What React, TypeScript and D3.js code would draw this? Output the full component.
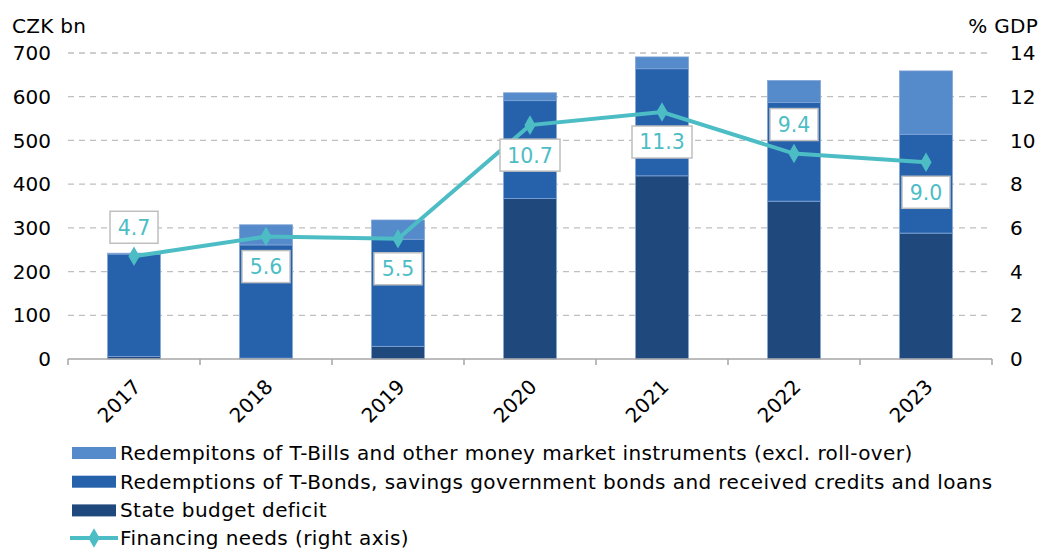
import React from 'react';
import * as d3 from 'd3';

const years = ['2017', '2018', '2019', '2020', '2021', '2022', '2023'];
const deficit = [6, 2, 29, 367, 419, 361, 288];
const tBonds = [234, 259, 245, 224, 245, 226, 226];
const tBills = [2, 46, 44, 18, 27, 50, 145];
const financingNeeds = [4.7, 5.6, 5.5, 10.7, 11.3, 9.4, 9.0];
const labelAbove = [true, false, false, false, false, true, false];
const leftTicks = [0, 100, 200, 300, 400, 500, 600, 700];
const rightTicks = [0, 2, 4, 6, 8, 10, 12, 14];

const legendItems = [
    { label: 'Redempitons of T-Bills and other money market instruments (excl. roll-over)', color: '#558ACB' },
    { label: 'Redemptions of T-Bonds, savings government bonds and received credits and loans', color: '#2662AC' },
    { label: 'State budget deficit', color: '#1F497D' },
];

const seriesColors = ['#1F497D', '#2662AC', '#558ACB'];
const lineColor = '#4DBDC5';
const font = '"DejaVu Sans", Verdana, sans-serif';

const App = () => {
    const width = 1040;
    const height = 549;
    const left = 68, right = 992, top = 53, bottom = 359;

    const x = d3.scaleBand<string>().domain(years).range([left, right]).paddingInner(0.6).paddingOuter(0.3);
    const y = d3.scaleLinear().domain([0, 700]).range([bottom, top]);
    const y2 = d3.scaleLinear().domain([0, 14]).range([bottom, top]);

    const table = years.map((yr, i) => ({ year: yr, deficit: deficit[i], bonds: tBonds[i], bills: tBills[i] }));
    const stack = d3.stack<any>().keys(['deficit', 'bonds', 'bills'])(table);

    const cx = (yr: string) => (x(yr) as number) + x.bandwidth() / 2;
    const line = d3.line<number>().x((d, i) => cx(years[i])).y(d => y2(d));
    const diamond = d3.symbol().type(d3.symbolDiamond).size(110)();

    return (
        <svg width={width} height={height} style={{ display: 'block', position: 'absolute', left: 0, top: 0 }} fontFamily={font}>
            <text x={12} y={33} fontSize={20} fill="#000" letterSpacing={0.3}>CZK bn</text>
            <text x={1038} y={33} fontSize={20} fill="#000" textAnchor="end" letterSpacing={0.3}>% GDP</text>

            {leftTicks.slice(1).map(t => (
                <line key={t} x1={left} x2={right} y1={y(t)} y2={y(t)} stroke="#BFBFBF" strokeWidth={1.3} strokeDasharray="6,5" />
            ))}
            {leftTicks.map(t => (
                <text key={t} x={51} y={y(t)} dy="0.36em" fontSize={20} textAnchor="end" fill="#000">{t}</text>
            ))}
            {rightTicks.map(t => (
                <text key={t} x={1010} y={y2(t)} dy="0.36em" fontSize={20} fill="#000">{t}</text>
            ))}

            {stack.map((s, si) => (
                <g key={si} fill={seriesColors[si]}>
                    {s.map((d, i) => (
                        <rect key={i} x={x(years[i])} y={y(d[1])} width={x.bandwidth()}
                            height={Math.max(0, y(d[0]) - y(d[1]))} stroke="#7FA3D6" strokeWidth={0.8} />
                    ))}
                </g>
            ))}

            <line x1={left} x2={right} y1={bottom} y2={bottom} stroke="#A6A6A6" strokeWidth={1.5} />
            {d3.range(years.length + 1).map(i => {
                const tx = left + i * x.step();
                return <line key={i} x1={tx} x2={tx} y1={bottom} y2={bottom + 6} stroke="#A6A6A6" strokeWidth={1.5} />;
            })}
            {years.map(yr => (
                <text key={yr} transform={`translate(${cx(yr) + 8},${bottom + 29}) rotate(-45)`} fontSize={20} textAnchor="end" fill="#000">{yr}</text>
            ))}

            <path d={line(financingNeeds) as string} fill="none" stroke={lineColor} strokeWidth={4} />
            {financingNeeds.map((v, i) => (
                <path key={i} d={diamond as string} transform={`translate(${cx(years[i])},${y2(v)})`} fill={lineColor} />
            ))}
            {financingNeeds.map((v, i) => {
                const lbl = v.toFixed(1);
                const w = lbl.length * 12 + 12;
                const ly = y2(v) + (labelAbove[i] ? -29 : 30);
                return (
                    <g key={i}>
                        <rect x={cx(years[i]) - w / 2} y={ly - 16} width={w} height={32} fill="#fff" stroke="#BFBFBF" strokeWidth={1.5} />
                        <text x={cx(years[i])} y={ly} dy="0.36em" fontSize={20.5} textAnchor="middle" fill={lineColor}>{lbl}</text>
                    </g>
                );
            })}

            {legendItems.map((it, i) => (
                <g key={i}>
                    <rect x={72} y={447 + i * 28.7} width={44} height={12} fill={it.color} />
                    <text x={120} y={460 + i * 28.7} fontSize={20} fill="#000" letterSpacing={0.42}>{it.label}</text>
                </g>
            ))}
            <line x1={70} x2={118} y1={538} y2={538} stroke={lineColor} strokeWidth={4} />
            <path d={diamond as string} transform="translate(94,538)" fill={lineColor} />
            <text x={120} y={544.5} fontSize={20} fill="#000" letterSpacing={0.42}>Financing needs (right axis)</text>
        </svg>
    );
};

export default App;
